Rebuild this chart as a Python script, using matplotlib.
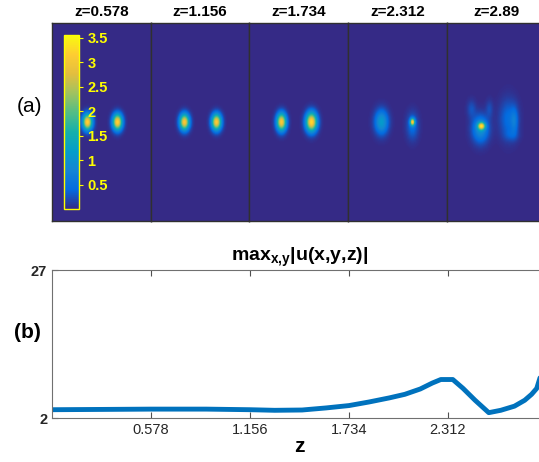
import numpy as np
import matplotlib
matplotlib.use("Agg")
from matplotlib import pyplot as plt
from matplotlib.colors import LinearSegmentedColormap

plt.rcParams['font.family'] = ['Liberation Sans', 'DejaVu Sans']
plt.rcParams['mathtext.fontset'] = 'custom'
plt.rcParams['mathtext.rm'] = 'Liberation Sans'
plt.rcParams['mathtext.bf'] = 'Liberation Sans:bold'

# panel titles (propagation distances)
z_slices = ["0.578", "1.156", "1.734", "2.312", "2.89"]

# blobs of |u| in each slice: (x, y, sigma_x, sigma_y, amplitude), panel pixel units
blobs = [
    [(35, 99, 3.3, 5.5, 3.25), (65, 99, 3.3, 5.5, 3.25)],
    [(33, 99, 3.3, 5.5, 3.1), (65, 99, 3.3, 5.5, 3.15)],
    [(32, 99, 3.3, 6.0, 3.1), (62, 99, 3.8, 6.5, 3.3)],
    [(33, 99, 4.5, 8.0, 1.15), (64, 99, 1.6, 2.4, 2.9), (64, 103, 4.0, 9.0, 0.45)],
    [(34, 103, 2.5, 2.5, 2.6), (33, 106, 5.5, 9.0, 0.95), (24, 86, 3.0, 6.0, 0.25),
     (42, 86, 2.5, 6.0, 0.22), (61, 96, 6.0, 13.0, 0.45), (67, 98, 2.5, 9.0, 0.45),
     (64, 112, 5.0, 4.0, 0.2)],
]

# max_{x,y}|u| versus z
z_vals = [0, 0.3, 0.578, 0.9, 1.156, 1.3, 1.46, 1.6, 1.734, 1.85, 1.97, 2.06, 2.15,
          2.22, 2.27, 2.34, 2.4, 2.47, 2.55, 2.62, 2.7, 2.76, 2.8, 2.83, 2.86, 2.89]
max_vals = [3.4, 3.45, 3.5, 3.5, 3.4, 3.3, 3.35, 3.7, 4.1, 4.7, 5.4, 6.0, 6.9,
            7.9, 8.5, 8.5, 7.0, 5.0, 2.9, 3.3, 4.0, 5.0, 6.0, 7.0, 9.8, 18.0]
z_ticks = [0.578, 1.156, 1.734, 2.312]
cb_ticks = [0.5, 1, 1.5, 2, 2.5, 3, 3.5]

parula = LinearSegmentedColormap.from_list("parula", [
    (0.2081, 0.1663, 0.5292), (0.0123, 0.4213, 0.8802), (0.0779, 0.5220, 0.8313),
    (0.0154, 0.6198, 0.7892), (0.0862, 0.6900, 0.6676), (0.3282, 0.7406, 0.5198),
    (0.6288, 0.7623, 0.3734), (0.8881, 0.7451, 0.2455), (0.9945, 0.8024, 0.1947),
    (0.9763, 0.9831, 0.0538)])

W, H = 539, 462
fig = plt.figure(figsize=(W / 100, H / 100), dpi=100)

def fx(px):
    return px / W

def fy(py):
    return 1 - py / H

# top row: slices
pw = 98.7
left0, top, bot = 52, 23, 221
xx, yy = np.meshgrid(np.arange(99), np.arange(198))
im = None
for i, lab in enumerate(z_slices):
    ax = fig.add_axes([fx(left0 + i * pw), fy(bot), fx(pw), (bot - top) / H])
    field = np.zeros_like(xx, dtype=float)
    for (cx, cy, sx, sy, a) in blobs[i]:
        field += a * np.exp(-((xx - cx) ** 2 / (2 * sx ** 2) + (yy - cy) ** 2 / (2 * sy ** 2)))
    im = ax.imshow(field, cmap=parula, vmin=0, vmax=3.56, aspect='auto',
                   interpolation='bilinear')
    ax.set_xticks([])
    ax.set_yticks([])
    for s in ax.spines.values():
        s.set_color('#303030')
        s.set_linewidth(1)
    fig.text(fx(left0 + (i + 0.5) * pw), fy(12), "z=" + lab, ha='center', va='center',
             fontsize=11, fontweight='bold')

cax = fig.add_axes([fx(64), fy(209), fx(15), 174 / H])
cb = fig.colorbar(im, cax=cax, ticks=cb_ticks)
cb.ax.set_yticklabels(["0.5", "1", "1.5", "2", "2.5", "3", "3.5"])
cb.outline.set_edgecolor('yellow')
cb.outline.set_linewidth(1)
cax.tick_params(colors='yellow', labelcolor='yellow', length=3, width=0.8,
                direction='out', labelsize=10.5, pad=3)
for t in cax.get_yticklabels():
    t.set_fontweight('bold')

fig.text(fx(30), fy(107), "(a)", ha='center', va='center', fontsize=15)

# bottom: max |u| vs z
ax2 = fig.add_axes([fx(52), fy(418), fx(495), (418 - 270) / H])
ax2.plot(z_vals, max_vals, color=(0, 0.447, 0.741), linewidth=3.5,
         solid_joinstyle='round', solid_capstyle='round')
ax2.set_xlim(0, 2.89)
ax2.set_ylim(2, 27)
ax2.set_xticks(z_ticks)
ax2.set_xticklabels(z_ticks)
ax2.set_yticks([2, 27])
ax2.set_yticklabels(["2", "27"], fontweight='bold')
ax2.tick_params(direction='in', length=4, width=0.8, colors='#505050',
                labelcolor='#262626', labelsize=10.5, top=True, right=True)
for s in ax2.spines.values():
    s.set_color('#707070')
ax2.set_title(r'max$_{\mathbf{x{,}y}}$|u(x,y,z)|', fontsize=14, fontweight='bold', pad=7)
ax2.set_xlabel("z", fontsize=15, fontweight='bold', labelpad=0)
fig.text(fx(27), fy(333), "(b)", ha='center', va='center', fontsize=15, fontweight='bold')

fig.savefig("out.png", dpi=100)
